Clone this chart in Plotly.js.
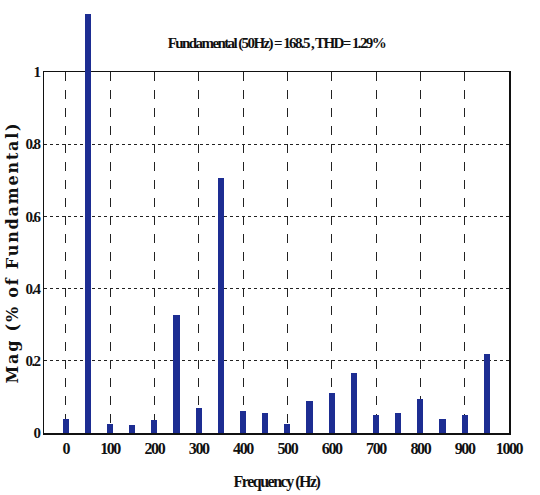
<!DOCTYPE html>
<html>
<head>
<meta charset="utf-8">
<script src="https://cdn.plot.ly/plotly-3.0.1.min.js"></script>
<style>
html,body{margin:0;padding:0;background:#fff;}
#chart{width:540px;height:495px;}
.gtitle{letter-spacing:-1.6px;}
.xtick text{letter-spacing:-1.4px;}
.ytick text{letter-spacing:-1.6px;}
.xtitle{letter-spacing:-1.5px;}
.ytitle{letter-spacing:1.8px;}
</style>
</head>
<body>
<div id="chart"></div>
<script>
const frequencies = [0, 50, 100, 150, 200, 250, 300, 350, 400, 450, 500, 550, 600, 650, 700, 750, 800, 850, 900, 950];
const magnitudes = [0.04, 1.16, 0.024, 0.022, 0.035, 0.327, 0.068, 0.706, 0.062, 0.056, 0.024, 0.089, 0.11, 0.165, 0.05, 0.055, 0.095, 0.038, 0.05, 0.218];
const xTicks = [0, 100, 200, 300, 400, 500, 600, 700, 800, 900, 1000];
const yTicks = [0, 0.2, 0.4, 0.6, 0.8, 1];
const yTickLabels = ['0', '0.2', '0.4', '0.6', '0.8', '1'];
const titleText = 'Fundamental (50Hz) = 168.5 , THD= 1.29%';

const serif = 'Liberation Serif, Times New Roman, serif';
const xRange = [-49, 1000];
// main axes (y from 0 to 1) occupy lower part; the bar axes extend above so the fundamental bar can overshoot
const mainTop = 361 / 421;

Plotly.newPlot('chart', [{
  // invisible carrier trace so the main (gridded) axes are drawn
  type: 'scatter', mode: 'markers',
  x: frequencies, y: magnitudes,
  xaxis: 'x', yaxis: 'y',
  marker: {opacity: 0, size: 1},
  hoverinfo: 'skip'
}, {
  type: 'bar',
  x: frequencies,
  y: magnitudes,
  xaxis: 'x2', yaxis: 'y2',
  width: 14,
  marker: {color: '#1d2d92', line: {width: 0}}
}], {
  width: 540, height: 495,
  margin: {l: 44, r: 31, t: 12, b: 62},
  paper_bgcolor: '#fff', plot_bgcolor: 'rgba(0,0,0,0)',
  showlegend: false,
  bargap: 0,
  title: {text: '<b>' + titleText + '</b>', font: {family: serif, size: 15, color: '#111'}, x: 0.512, xanchor: 'center', y: 0.913, yanchor: 'middle'},
  xaxis: {
    domain: [0, 1], anchor: 'y',
    range: xRange,
    tickvals: xTicks,
    ticktext: xTicks.map(v => '<b>' + v + '</b>'),
    ticks: '', ticklen: 0,
    showgrid: true, gridcolor: '#222', gridwidth: 1, griddash: 'dash',
    showline: true, linecolor: '#111', linewidth: 1.5, mirror: true,
    zeroline: false,
    tickfont: {family: serif, size: 16, color: '#111'},
    title: {text: '<b>Frequency (Hz)</b>', font: {family: serif, size: 16, color: '#111'}, standoff: 20}
  },
  yaxis: {
    domain: [0, mainTop], anchor: 'x',
    range: [0, 1],
    tickvals: yTicks,
    ticktext: yTickLabels.map(v => '<b>' + v + '</b>'),
    ticks: '', ticklen: 0,
    showgrid: true, gridcolor: '#222', gridwidth: 1, griddash: 'dot',
    showline: true, linecolor: '#111', linewidth: 1.5, mirror: true,
    zeroline: false,
    tickfont: {family: serif, size: 15, color: '#111'},
    title: {text: '<b>Mag (% of Fundamental)</b>', font: {family: 'DejaVu Serif, serif', size: 16, color: '#111'}, standoff: 3}
  },
  xaxis2: {domain: [0, 1], anchor: 'y2', range: xRange, visible: false, showgrid: false, zeroline: false},
  yaxis2: {domain: [0, 1], anchor: 'x2', range: [0, 1 / mainTop], visible: false, showgrid: false, zeroline: false}
}, {displayModeBar: false, staticPlot: true});
</script>
</body>
</html>
